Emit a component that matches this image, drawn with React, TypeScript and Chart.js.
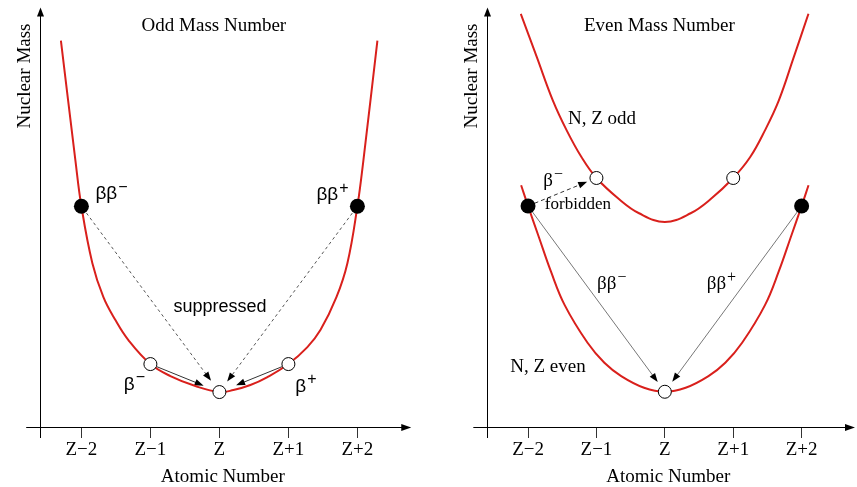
import React, { useEffect, useRef } from "react";
import { Chart, registerables } from "chart.js";
Chart.register(...registerables);

// ---------- data ----------
const TICK_VALUES = [-2, -1, 0, 1, 2];
const TICK_LABELS = ["Z\u22122", "Z\u22121", "Z", "Z+1", "Z+2"];

// Odd mass number: single mass parabola (x = offset from Z, y = relative nuclear mass)
const ODD_CURVE_X = [-2.297, -2.087, -2.0, -1.841, -1.681, -1.507, -1.319, -1.0, -0.71, -0.348, 0, 0.203, 0.449, 0.696, 1.0, 1.275, 1.464, 1.696, 1.855, 2.0, 2.087, 2.29];
const ODD_CURVE_Y = [92.1, 63.57, 52.62, 39.05, 30.95, 25.48, 20.71, 15.0, 12.14, 9.76, 8.33, 8.81, 10.0, 11.9, 15.0, 19.05, 23.1, 30.95, 39.05, 52.62, 63.57, 92.1];
const ODD_OPEN_X = [-1, 0, 1];
const ODD_OPEN_Y = [15.0, 8.33, 15.0];
const ODD_FILLED_X = [-2, 2];
const ODD_FILLED_Y = [52.62, 52.62];

// Even mass number: odd-odd (upper) and even-even (lower) parabolas
const OO_CURVE_X = [-2.106, -1.87, -1.638, -1.435, -1.217, -1.0, -0.667, -0.377, 0, 0.377, 0.667, 1.0, 1.246, 1.464, 1.667, 1.884, 2.1];
const OO_CURVE_Y = [98.5, 88.1, 77.86, 70.71, 64.29, 59.36, 54.29, 50.95, 48.88, 50.95, 54.29, 59.36, 64.29, 70.71, 77.86, 88.1, 98.5];
const EE_CURVE_X = [-2.101, -2.0, -1.841, -1.667, -1.464, -1.13, -0.884, -0.638, -0.304, 0, 0.304, 0.638, 0.884, 1.13, 1.464, 1.667, 1.841, 2.0, 2.101];
const EE_CURVE_Y = [57.62, 52.69, 45.24, 37.14, 29.05, 20.07, 15.31, 12.14, 9.36, 8.4, 9.36, 12.14, 15.31, 20.07, 29.05, 37.14, 45.24, 52.69, 57.62];
const EVEN_OPEN_X = [-1, 1, 0];
const EVEN_OPEN_Y = [59.36, 59.36, 8.4];
const EVEN_FILLED_X = [-2, 2];
const EVEN_FILLED_Y = [52.69, 52.69];

// ---------- styles / layout ----------
const RED = "#d9201c";
const SERIF = "'Liberation Serif', 'Times New Roman', serif";
const SANS = "'Liberation Sans', Arial, sans-serif";
const X_MIN = -2.6;
const X_MAX = 2.7;
const PX_PER_UNIT = 69;
const AXIS_X_START = -2.8;
const AXIS_X_END = 2.78;
const H = 487;

type Arrow = { from: [number, number]; to: [number, number]; gapStart: number; gapEnd: number; dash: number[]; color: string };
type Label = { text: string; sup?: string; x: number; y: number; family: string; size: number; align: CanvasTextAlign; baseline: CanvasTextBaseline };

const xy = (xs: number[], ys: number[]) => xs.map((x, i) => ({ x, y: ys[i] }));

function arrowHead(ctx: CanvasRenderingContext2D, x: number, y: number, ang: number, len: number, half: number, color: string) {
  ctx.save();
  ctx.translate(x, y);
  ctx.rotate(ang);
  ctx.fillStyle = color;
  ctx.beginPath();
  ctx.moveTo(0, 0);
  ctx.lineTo(-len, -half);
  ctx.lineTo(-len, half);
  ctx.closePath();
  ctx.fill();
  ctx.restore();
}

function overlay(title: string, arrows: Arrow[], labels: Label[]) {
  return {
    id: "overlay",
    beforeDatasetsDraw(chart: any) {
      const { ctx, chartArea: a, scales } = chart;
      const sx = scales.x, sy = scales.y;
      ctx.save();
      ctx.strokeStyle = "#000";
      ctx.lineWidth = 1;
      const x0 = Math.round(a.left) + 0.5;
      const yb = Math.round(a.bottom) + 0.5;
      const xs = sx.getPixelForValue(AXIS_X_START);
      const xe = sx.getPixelForValue(AXIS_X_END);
      ctx.beginPath();
      ctx.moveTo(xs, yb);
      ctx.lineTo(xe - 8, yb);
      ctx.stroke();
      arrowHead(ctx, xe, yb, 0, 10, 3.5, "#000");
      ctx.beginPath();
      ctx.moveTo(x0, a.bottom + 11);
      ctx.lineTo(x0, a.top + 7);
      ctx.stroke();
      arrowHead(ctx, x0, a.top, -Math.PI / 2, 9, 3.5, "#000");

      for (const ar of arrows) {
        const p1x = sx.getPixelForValue(ar.from[0]), p1y = sy.getPixelForValue(ar.from[1]);
        const p2x = sx.getPixelForValue(ar.to[0]), p2y = sy.getPixelForValue(ar.to[1]);
        const dx = p2x - p1x, dy = p2y - p1y;
        const L = Math.hypot(dx, dy);
        const ux = dx / L, uy = dy / L;
        const sxp = p1x + ux * ar.gapStart, syp = p1y + uy * ar.gapStart;
        const tx = p2x - ux * ar.gapEnd, ty = p2y - uy * ar.gapEnd;
        ctx.strokeStyle = ar.color;
        ctx.lineWidth = 1;
        ctx.setLineDash(ar.dash);
        ctx.beginPath();
        ctx.moveTo(sxp, syp);
        ctx.lineTo(tx - ux * 6, ty - uy * 6);
        ctx.stroke();
        ctx.setLineDash([]);
        arrowHead(ctx, tx, ty, Math.atan2(uy, ux), 9, 3.3, "#000");
      }
      ctx.restore();
    },
    afterDraw(chart: any) {
      const { ctx, chartArea: a, scales } = chart;
      const sx = scales.x, sy = scales.y;
      ctx.save();
      ctx.fillStyle = "#000";
      ctx.font = `19px ${SERIF}`;
      ctx.textAlign = "center";
      ctx.textBaseline = "middle";
      ctx.fillText(title, sx.getPixelForValue(-0.08), sy.getPixelForValue(95.5));
      ctx.save();
      ctx.translate(a.left - 14.5, a.top + 68.5);
      ctx.rotate(-Math.PI / 2);
      ctx.fillText("Nuclear Mass", 0, 0);
      ctx.restore();
      for (const lb of labels) {
        const px = sx.getPixelForValue(lb.x), py = sy.getPixelForValue(lb.y);
        ctx.font = `${lb.size}px ${lb.family}`;
        ctx.textAlign = lb.align;
        ctx.textBaseline = lb.baseline;
        ctx.fillText(lb.text, px, py);
        if (lb.sup) {
          const w = ctx.measureText(lb.text).width;
          ctx.font = `${Math.round(lb.size * 0.85)}px ${lb.family}`;
          ctx.textAlign = "left";
          ctx.fillText(lb.sup, px + w + 1, py - lb.size * 0.38);
        }
      }
      ctx.restore();
    },
  };
}

function makeConfig(width: number, datasets: any[], title: string, arrows: Arrow[], labels: Label[]): any {
  const rightPad = width - 40 - (X_MAX - X_MIN) * PX_PER_UNIT;
  return {
    type: "line",
    data: { datasets },
    options: {
      responsive: false,
      animation: false,
      devicePixelRatio: 1,
      events: [],
      layout: { padding: { left: 40, top: 7, right: rightPad, bottom: 0 } },
      plugins: { legend: { display: false }, tooltip: { enabled: false }, title: { display: false } },
      scales: {
        x: {
          type: "linear",
          min: X_MIN,
          max: X_MAX,
          afterBuildTicks: (s: any) => {
            s.ticks = TICK_VALUES.map((v) => ({ value: v }));
          },
          afterFit: (s: any) => {
            s.height = 60;
          },
          ticks: {
            callback: (_v: any, i: number) => TICK_LABELS[i],
            font: { family: SERIF, size: 19 },
            color: "#000",
            padding: 1,
            maxRotation: 0,
            autoSkip: false,
          },
          grid: { display: true, drawOnChartArea: false, drawTicks: true, tickLength: 11, color: "#333", lineWidth: 1 },
          border: { display: false },
          title: {
            display: true,
            text: "Atomic Number",
            font: { family: SERIF, size: 19, lineHeight: 1.1 },
            color: "#000",
            padding: { top: 0, bottom: 0 },
          },
        },
        y: { type: "linear", min: 0, max: 100, display: false },
      },
    },
    plugins: [overlay(title, arrows, labels)],
  };
}

function pointSets(openX: number[], openY: number[], filledX: number[], filledY: number[]) {
  return [
    {
      data: xy(openX, openY),
      showLine: false,
      pointRadius: 6.5,
      pointBackgroundColor: "#fff",
      pointBorderColor: "#000",
      pointBorderWidth: 1,
      order: 0,
    },
    {
      data: xy(filledX, filledY),
      showLine: false,
      pointRadius: 7.5,
      pointBackgroundColor: "#000",
      pointBorderColor: "#000",
      pointBorderWidth: 0,
      order: 0,
    },
  ];
}

function curveSet(xs: number[], ys: number[]) {
  return {
    data: xy(xs, ys),
    borderColor: RED,
    borderWidth: 2,
    pointRadius: 0,
    fill: false,
    tension: 0.4,
    order: 1,
  };
}

export default function App() {
  const leftRef = useRef<HTMLCanvasElement>(null);
  const rightRef = useRef<HTMLCanvasElement>(null);

  useEffect(() => {
    const oddZ: [number, number] = [ODD_OPEN_X[1], ODD_OPEN_Y[1]];
    const leftArrows: Arrow[] = [
      { from: [ODD_FILLED_X[0], ODD_FILLED_Y[0]], to: oddZ, gapStart: 8.5, gapEnd: 14, dash: [3, 3], color: "#555" },
      { from: [ODD_FILLED_X[1], ODD_FILLED_Y[1]], to: oddZ, gapStart: 8.5, gapEnd: 13, dash: [3, 3], color: "#555" },
      { from: [ODD_OPEN_X[0], ODD_OPEN_Y[0]], to: oddZ, gapStart: 7, gapEnd: 17, dash: [], color: "#333" },
      { from: [ODD_OPEN_X[2], ODD_OPEN_Y[2]], to: oddZ, gapStart: 7, gapEnd: 18, dash: [], color: "#333" },
    ];
    const leftLabels: Label[] = [
      { text: "\u03b2\u03b2", sup: "\u2212", x: -1.797, y: 54.3, family: SANS, size: 19, align: "left", baseline: "alphabetic" },
      { text: "\u03b2\u03b2", sup: "+", x: 1.406, y: 54.0, family: SANS, size: 19, align: "left", baseline: "alphabetic" },
      { text: "suppressed", x: 0.01, y: 28.7, family: SANS, size: 18, align: "center", baseline: "middle" },
      { text: "\u03b2", sup: "\u2212", x: -1.387, y: 8.93, family: SANS, size: 19, align: "left", baseline: "alphabetic" },
      { text: "\u03b2", sup: "+", x: 1.101, y: 8.45, family: SANS, size: 19, align: "left", baseline: "alphabetic" },
    ];
    const evenZ: [number, number] = [EVEN_OPEN_X[2], EVEN_OPEN_Y[2]];
    const rightArrows: Arrow[] = [
      { from: [EVEN_FILLED_X[0], EVEN_FILLED_Y[0]], to: evenZ, gapStart: 7.5, gapEnd: 12, dash: [], color: "#777" },
      { from: [EVEN_FILLED_X[1], EVEN_FILLED_Y[1]], to: evenZ, gapStart: 7.5, gapEnd: 12.5, dash: [], color: "#777" },
      { from: [EVEN_FILLED_X[0], EVEN_FILLED_Y[0]], to: [EVEN_OPEN_X[0], EVEN_OPEN_Y[0]], gapStart: 7, gapEnd: 10, dash: [4, 3], color: "#333" },
    ];
    const rightLabels: Label[] = [
      { text: "N, Z odd", x: -1.416, y: 73.5, family: SERIF, size: 19, align: "left", baseline: "middle" },
      { text: "N, Z even", x: -2.261, y: 14.36, family: SERIF, size: 19, align: "left", baseline: "middle" },
      { text: "\u03b2\u03b2", sup: "\u2212", x: -0.99, y: 32.9, family: SERIF, size: 19, align: "left", baseline: "alphabetic" },
      { text: "\u03b2\u03b2", sup: "+", x: 0.613, y: 32.9, family: SERIF, size: 19, align: "left", baseline: "alphabetic" },
      { text: "\u03b2", sup: "\u2212", x: -1.778, y: 57.4, family: SERIF, size: 19, align: "left", baseline: "alphabetic" },
      { text: "forbidden", x: -1.754, y: 53.1, family: SERIF, size: 17, align: "left", baseline: "middle" },
    ];

    const left = new Chart(
      leftRef.current!,
      makeConfig(
        430,
        [...pointSets(ODD_OPEN_X, ODD_OPEN_Y, ODD_FILLED_X, ODD_FILLED_Y), curveSet(ODD_CURVE_X, ODD_CURVE_Y)],
        "Odd Mass Number",
        leftArrows,
        leftLabels
      )
    );
    const right = new Chart(
      rightRef.current!,
      makeConfig(
        410,
        [
          ...pointSets(EVEN_OPEN_X, EVEN_OPEN_Y, EVEN_FILLED_X, EVEN_FILLED_Y),
          curveSet(OO_CURVE_X, OO_CURVE_Y),
          curveSet(EE_CURVE_X, EE_CURVE_Y),
        ],
        "Even Mass Number",
        rightArrows,
        rightLabels
      )
    );
    return () => {
      left.destroy();
      right.destroy();
    };
  }, []);

  return (
    <div style={{ position: "fixed", left: 0, top: 0, width: 857, height: H, overflow: "hidden", background: "#fff" }}>
      <canvas ref={leftRef} width={430} height={H} style={{ position: "absolute", left: 0, top: 0, width: 430, height: H }} />
      <canvas ref={rightRef} width={410} height={H} style={{ position: "absolute", left: 447, top: 0, width: 410, height: H }} />
    </div>
  );
}
